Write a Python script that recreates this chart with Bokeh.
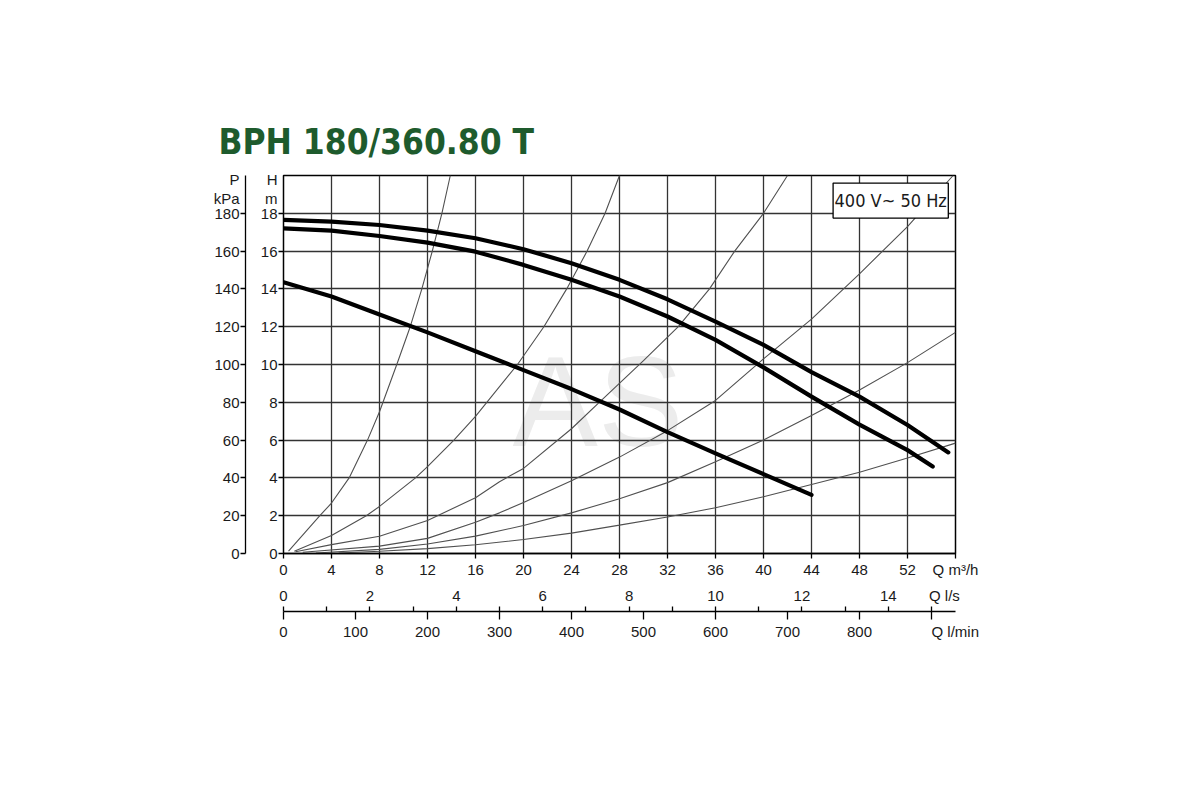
from bokeh.plotting import figure
from bokeh.models import Range1d, LinearAxis, FixedTicker
from bokeh.embed import file_html
from bokeh.resources import INLINE

# ---------------- data ----------------
TITLE = "BPH 180/360.80 T"
RATING = "400 V~ 50 Hz"
WATERMARK = "AS"

q_ticks = [0, 4, 8, 12, 16, 20, 24, 28, 32, 36, 40, 44, 48, 52, 56]
h_ticks = [0, 2, 4, 6, 8, 10, 12, 14, 16, 18]
h_grid = [0, 2, 4, 6, 8, 10, 12, 14, 16, 18, 20]
p_ticks = [0, 20, 40, 60, 80, 100, 120, 140, 160, 180]
ls_ticks = [0, 2, 4, 6, 8, 10, 12, 14]
ls_marks = [0, 1, 2, 3, 4, 5, 6, 7, 8, 9, 10, 11, 12, 13, 14, 15]
lmin_ticks = [0, 100, 200, 300, 400, 500, 600, 700, 800]
lmin_marks = [0, 100, 200, 300, 400, 500, 600, 700, 800, 900]

# pump curves (Q m3/h, H m)
pump1_q = [0, 4, 8, 12, 16, 20, 24, 28, 32, 36, 40, 44, 48, 52, 55.4]
pump1_h = [17.65, 17.56, 17.38, 17.08, 16.68, 16.1, 15.36, 14.48, 13.45, 12.27, 11.04, 9.6, 8.3, 6.8, 5.35]
pump2_q = [0, 4, 8, 12, 16, 20, 24, 28, 32, 36, 40, 44, 48, 52, 54.1]
pump2_h = [17.2, 17.08, 16.8, 16.45, 15.97, 15.27, 14.48, 13.6, 12.54, 11.3, 9.85, 8.3, 6.82, 5.47, 4.6]
pump3_q = [0, 4, 8, 12, 16, 20, 24, 28, 32, 36, 40, 44]
pump3_h = [14.35, 13.6, 12.65, 11.7, 10.7, 9.7, 8.7, 7.62, 6.42, 5.3, 4.2, 3.1]

# system curves (thin)
sys1_q = [0.42, 3.03, 4, 5.47, 7.0, 8, 9.44, 10.56, 11.53, 12.4, 13.2, 13.9]
sys1_h = [0.12, 2, 2.67, 4, 6, 7.5, 10, 12, 14, 16, 18, 20]
sys2_q = [0.9, 4, 6.9, 8, 11, 12, 14.2, 16, 19.5, 21.7, 23.6, 25.3, 26.8, 28.0]
sys2_h = [0.12, 0.95, 2, 2.49, 4, 4.6, 6, 7.26, 10, 12, 14, 16, 18, 20]
sys3_q = [1.0, 4, 8, 12, 16, 18, 20, 24, 26.4, 30, 32.9, 35.5, 37.6, 40, 42]
sys3_h = [0.09, 0.47, 0.91, 1.75, 2.95, 3.8, 4.5, 6.6, 8.05, 10.2, 12, 14, 16, 18, 20]
sys4_q = [1.6, 8, 12, 16, 18, 20, 24, 28, 32, 36, 40, 44, 48, 52, 55.8]
sys4_h = [0.07, 0.39, 0.8, 1.65, 2.15, 2.7, 3.85, 5.1, 6.5, 8.1, 10.3, 12.4, 14.8, 17.3, 20]
sys5_q = [2.7, 8, 12, 16, 20, 24, 28, 32, 36, 40, 44, 48, 52, 56]
sys5_h = [0.03, 0.22, 0.5, 0.92, 1.48, 2.15, 2.9, 3.75, 4.85, 6.0, 7.3, 8.65, 10.1, 11.7]
sys6_q = [4.6, 8, 12, 16, 20, 24, 28, 32, 36, 40, 44, 48, 52, 56]
sys6_h = [0.03, 0.12, 0.26, 0.46, 0.74, 1.08, 1.5, 1.93, 2.42, 3.0, 3.65, 4.3, 5.05, 5.84]

# ---------------- style ----------------
FONT = "Liberation Sans"
NARROW = "DejaVu Sans Condensed, Roboto"
LBL = "15px"
INK = "#1a1a1a"

Q_MAX, H_MAX = 56, 20

p = figure(frame_width=672, frame_height=378,
           min_border_left=283, min_border_top=175,
           min_border_right=80, min_border_bottom=120,
           x_range=Range1d(0, Q_MAX), y_range=Range1d(0, H_MAX),
           output_backend="svg", toolbar_location=None,
           background_fill_color="white", border_fill_color="white",
           outline_line_color="black", outline_line_width=1.5)

p.extra_y_ranges = {"p": Range1d(0, H_MAX * 10)}
p.extra_x_ranges = {"ls": Range1d(0, Q_MAX / 3.6), "lmin": Range1d(0, Q_MAX * 1000 / 60)}

# title
p.title.text = TITLE
p.title.text_font = NARROW
p.title.text_font_style = "bold"
p.title.text_font_size = "35px"
p.title.text_color = "#1e5b2d"
p.title.align = "left"
p.title.offset = -65
p.title.standoff = 28


def style_axis(ax):
    ax.major_label_text_font = FONT
    ax.major_label_text_font_size = LBL
    ax.major_label_text_color = INK
    ax.axis_line_color = "black"
    ax.axis_line_width = 1.3
    ax.major_tick_line_color = "black"
    ax.major_tick_line_width = 1.3
    ax.minor_tick_line_color = "black"
    ax.minor_tick_line_width = 1.3
    ax.major_tick_in = 0
    ax.minor_tick_in = 0


# main Q m3/h axis
xa = p.xaxis[0]
style_axis(xa)
xa.ticker = FixedTicker(ticks=q_ticks)
ov = {t: str(t) for t in q_ticks}
ov[56] = "Q m³/h"
xa.major_label_overrides = ov
xa.major_tick_out = 5
xa.major_label_standoff = 2

# H axis
ya = p.yaxis[0]
style_axis(ya)
h_lab = h_ticks + [18.8, 19.8, 1]
ya.ticker = FixedTicker(ticks=h_lab, minor_ticks=h_ticks)
ov = {t: str(t) for t in h_ticks}
ov[18.8] = "m"
ov[19.8] = "H"
ov[1] = "\u00a0" * 7
ya.major_label_overrides = ov
ya.major_tick_line_color = None
ya.major_tick_out = 5
ya.minor_tick_out = 5
ya.major_label_standoff = 1
ya.axis_line_color = None

# P kPa axis
pa = LinearAxis(y_range_name="p")
style_axis(pa)
pa.ticker = FixedTicker(ticks=p_ticks + [188, 198], minor_ticks=p_ticks)
ov = {t: str(t) for t in p_ticks}
ov[188] = "kPa"
ov[198] = "P"
pa.major_label_overrides = ov
pa.major_tick_line_color = None
pa.major_tick_out = 5
pa.minor_tick_out = 5
pa.major_label_standoff = 1
p.add_layout(pa, "left")

# Q l/s labels
lsl = LinearAxis(x_range_name="ls")
style_axis(lsl)
lsl.ticker = FixedTicker(ticks=ls_ticks + [15.3])
ov = {t: str(t) for t in ls_ticks}
ov[15.3] = "Q l/s"
lsl.major_label_overrides = ov
lsl.axis_line_color = None
lsl.major_tick_line_color = None
lsl.major_tick_out = 3
lsl.major_label_standoff = 3
p.add_layout(lsl, "below")

# Q l/s tick marks (pointing up from the shared line)
lsm = LinearAxis(x_range_name="ls")
style_axis(lsm)
lsm.ticker = FixedTicker(ticks=[], minor_ticks=ls_marks)
lsm.axis_line_color = None
lsm.major_tick_out = 5
lsm.minor_tick_out = 5
lsm.major_label_standoff = 0
p.add_layout(lsm, "below")

# Q l/min axis
lm = LinearAxis(x_range_name="lmin")
style_axis(lm)
lm.ticker = FixedTicker(ticks=lmin_ticks + [933], minor_ticks=lmin_marks)
ov = {t: str(t) for t in lmin_ticks}
ov[933] = "Q l/min"
lm.major_label_overrides = ov
lm.major_tick_line_color = None
lm.major_tick_out = 8
lm.minor_tick_out = 8
lm.major_label_standoff = 3
p.add_layout(lm, "below")

# grid
p.xgrid.ticker = FixedTicker(ticks=q_ticks)
p.ygrid.ticker = FixedTicker(ticks=h_grid)
for g in (p.xgrid, p.ygrid):
    g.grid_line_color = "#333333"
    g.grid_line_width = 1.3

# watermark
p.text(x=[26.2], y=[8.04], text=[WATERMARK], text_font_size="128px",
       text_color="#ececec", text_align="center", text_baseline="middle",
       text_font={"value": FONT}, level="image")

# system curves
for xs, ys in ((sys1_q, sys1_h), (sys2_q, sys2_h), (sys3_q, sys3_h),
               (sys4_q, sys4_h), (sys5_q, sys5_h), (sys6_q, sys6_h)):
    p.line(xs, ys, line_color="#505050", line_width=1.1)

# pump curves
for xs, ys in ((pump1_q, pump1_h), (pump2_q, pump2_h), (pump3_q, pump3_h)):
    p.line(xs, ys, line_color="black", line_width=4.2, line_cap="round", line_join="round")

# rating box
p.quad(left=[45.8], right=[55.4], bottom=[17.75], top=[19.6],
       fill_color="white", line_color="black", line_width=1.3)
p.text(x=[50.6], y=[18.67], text=[RATING], text_font_size="18px",
       text_font={"value": NARROW}, text_color=INK,
       text_align="center", text_baseline="middle")

open("out.html", "w").write(file_html(p, INLINE))
